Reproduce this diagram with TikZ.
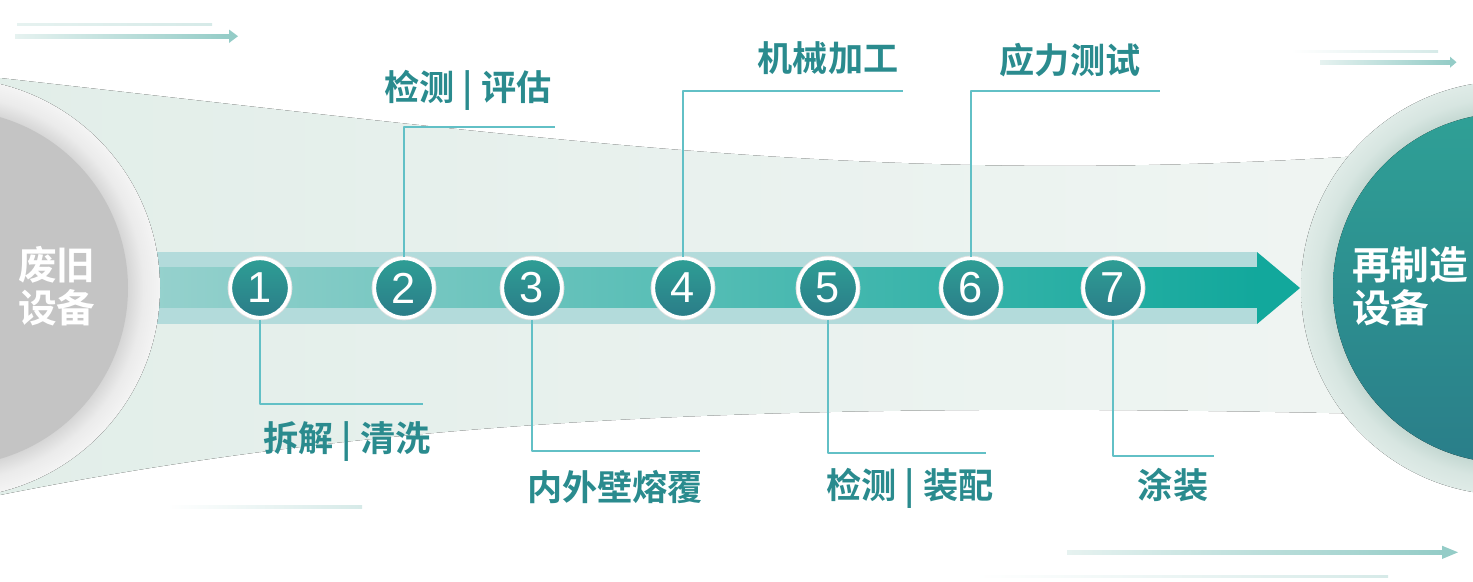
\documentclass[tikz,border=0pt]{standalone}
\usepackage{fontspec}
\setmainfont{Liberation Sans}
\newfontfamily\cjk{Noto Sans CJK SC Bold}
\definecolor{fanl}{HTML}{E2EEE9}
\definecolor{fanr}{HTML}{F0F5F3}
\definecolor{ringlt}{HTML}{F4F4F4}
\definecolor{ringdk}{HTML}{D6D6D6}
\definecolor{oldgray}{HTML}{C4C4C4}
\definecolor{rringlt}{HTML}{DFEBE7}
\definecolor{rringdk}{HTML}{C4D8D2}
\definecolor{tealtop}{HTML}{2FA096}
\definecolor{tealbot}{HTML}{2A7E89}
\definecolor{bandout}{HTML}{B3DBDB}
\definecolor{bandl}{HTML}{96D1CD}
\definecolor{bandr}{HTML}{12A89C}
\definecolor{linkc}{HTML}{62C0C6}
\definecolor{labc}{HTML}{2A8B8E}
\definecolor{numtop}{HTML}{2E9E95}
\definecolor{numbot}{HTML}{2B7C88}
\definecolor{numrim}{HTML}{E0E0E0}
\definecolor{decol}{HTML}{E6F2F0}
\definecolor{decoc}{HTML}{94CCC7}
\definecolor{faintc}{HTML}{D6EAE8}
\pgfdeclareradialshading{lring}{\pgfpoint{0bp}{0bp}}{color(0bp)=(ringdk); color(21.2bp)=(ringdk); color(23bp)=(ringlt!70!ringdk); color(25bp)=(ringlt); color(50bp)=(ringlt)}
\pgfdeclareradialshading{rring}{\pgfpoint{0bp}{0bp}}{color(0bp)=(rringdk); color(21.1bp)=(rringdk); color(23bp)=(rringlt!70!rringdk); color(25bp)=(rringlt); color(50bp)=(rringlt)}
\tikzset{
	link/.style={draw=linkc, line width=0.45mm},
	lab/.style={text=labc, inner sep=0, font=\cjk\fontsize{30}{36}\selectfont},
	big/.style={text=white, inner sep=0, anchor=west, align=left, font=\cjk\fontsize{33}{36.7}\selectfont},
	num/.style={circle, inner sep=0, minimum size=17.8mm, top color=numtop, bottom color=numbot,
		draw=white, line width=1.1mm, preaction={draw=numrim, line width=1.6mm},
		text=white, font=\fontsize{37}{37}\selectfont}
}
\begin{document}
\begin{tikzpicture}[x=0.3mm, y=-0.3mm, line join=round]
	\useasboundingbox (0,0) rectangle (1473,581);
	\clip (0,0) rectangle (1473,581);
	% decoration strokes
	\fill[left color=decol, right color=faintc] (17,23) rectangle (212,25.7);
	\fill[left color=decol, right color=decoc] (15,34) rectangle (230,38.5);
	\fill[decoc] (229,29.5)--(238,36.2)--(229,43)--cycle;
	\fill[left color=white, right color=faintc] (1291,50) rectangle (1438,52.7);
	\fill[left color=decol, right color=decoc] (1320,60.3) rectangle (1451,64);
	\fill[decoc] (1450,56.7)--(1456.5,62.2)--(1450,67.7)--cycle;
	\fill[left color=white, right color=faintc] (167,505) rectangle (362,508);
	\fill[left color=decol, right color=decoc] (1067,550) rectangle (1443,554.7);
	\fill[decoc] (1442,545.7)--(1458,552.3)--(1442,559)--cycle;
	\fill[left color=white, right color=faintc] (975,575) rectangle (1388,577.7);
	% fan
	\fill[left color=fanl, right color=fanr] (0,78) .. controls (600,145) and (900,190) .. (1420,152)
		-- (1420,415) .. controls (800,400) and (400,415) .. (0,495) -- cycle;
	% main arrow
	\fill[bandout] (150,252) rectangle (1257,324);
	\fill[left color=bandl, right color=bandr] (150,267) rectangle (1257.5,307);
	\fill[bandr] (1257,252)--(1300,288)--(1257,324)--cycle;
	% end discs
	\fill[shading=lring] (-50,288) circle (210);
	\fill[oldgray] (-50,288) circle (178);
	\fill[shading=rring] (1508,288) circle (207);
	\fill[top color=tealtop, bottom color=tealbot] (1508,288) circle (175);
	\node[big] (old) at (18,286) {废旧\\设备};
	\node[big] (new) at (1352,286) {再制造\\设备};
	% steps
	\foreach \i/\x in {1/260,2/404,3/532,4/683,5/828,6/971,7/1113}
		\node[num] (s\i) at (\x,288) {\i};
	\foreach \i/\x/\y in {1/423/404,3/700/451,5/986/453,7/1214/456}{
		\coordinate (e\i) at (\x,\y);
		\draw[link] (s\i.south) |- (e\i);
	}
	\foreach \i/\x/\y in {2/555/127,4/903/91,6/1160/91}{
		\coordinate (e\i) at (\x,\y);
		\draw[link] (s\i.north) |- (e\i);
	}
	\foreach \i/\x/\y/\t in {1/347/442/拆解 | 清洗,2/468/90/检测 | 评估,3/615/487/内外壁熔覆,
		4/828/58/机械加工,5/910/488/检测 | 装配,6/1070/60/应力测试,7/1173/485/涂装}
		\node[lab] (l\i) at (\x,\y) {\t};
\end{tikzpicture}
\end{document}
